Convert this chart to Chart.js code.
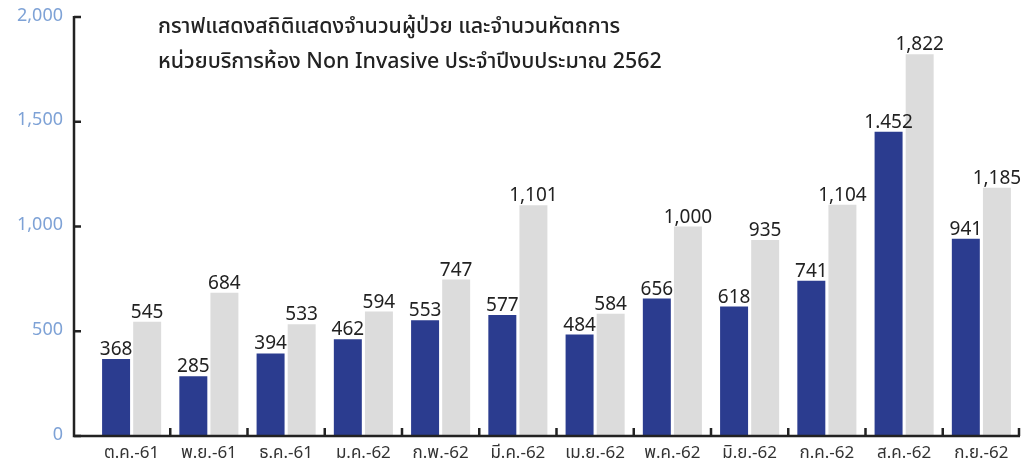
<!DOCTYPE html>
<html><head><meta charset="utf-8">
<script src="https://cdn.jsdelivr.net/npm/chart.js@4"></script>
<style>html,body{margin:0;padding:0;background:#fff}#wrap{width:1022px;height:466px;position:relative}</style>
</head><body><div id="wrap"><canvas id="c"></canvas></div>
<script>
const categories = ['ต.ค.-61','พ.ย.-61','ธ.ค.-61','ม.ค.-62','ก.พ.-62','มี.ค.-62','เม.ย.-62','พ.ค.-62','มิ.ย.-62','ก.ค.-62','ส.ค.-62','ก.ย.-62'];
const patients = [368, 285, 394, 462, 553, 577, 484, 656, 618, 741, 1452, 941];
const procedures = [545, 684, 533, 594, 747, 1101, 584, 1000, 935, 1104, 1822, 1185];
const patientLabels = ['368','285','394','462','553','577','484','656','618','741','1.452','941'];
const procedureLabels = ['545','684','533','594','747','1,101','584','1,000','935','1,104','1,822','1,185'];
const yTicks = [0, 500, 1000, 1500, 2000];
const titleLines = ['กราฟแสดงสถิติแสดงจำนวนผู้ป่วย และจำนวนหัตถการ', 'หน่วยบริการห้อง Non Invasive ประจำปีงบประมาณ 2562'];

const FONT = "'Noto Sans Thai','Noto Sans','Noto Sans CJK SC',sans-serif";

const drawPlugin = {
  id: 'drawPlugin',
  afterDatasetsDraw(chart) {
    const ctx = chart.ctx, ys = chart.scales.y, ca = chart.chartArea;
    const ax = ca.left - 19;
    ctx.save();
    ctx.strokeStyle = '#222';
    ctx.lineWidth = 2.5;
    ctx.beginPath();
    ctx.moveTo(ax, ys.getPixelForValue(yTicks[yTicks.length-1]) - 1);
    ctx.lineTo(ax, ca.bottom);
    ctx.lineTo(ca.right, ca.bottom);
    ctx.stroke();
    ctx.beginPath();
    yTicks.forEach(v => { const py = ys.getPixelForValue(v); ctx.moveTo(ax, py); ctx.lineTo(ax + 7, py); });
    const step = (ca.right - ca.left) / categories.length;
    for (let k = 1; k <= categories.length; k++) {
      const px = ca.left + step * k - (k === categories.length ? 1 : 0);
      ctx.moveTo(px, ca.bottom); ctx.lineTo(px, ca.bottom - 8);
    }
    ctx.stroke();
    ctx.fillStyle = '#222';
    ctx.font = "19px " + FONT;
    ctx.textAlign = 'center';
    ctx.textBaseline = 'alphabetic';
    const texts = [patientLabels, procedureLabels];
    chart.data.datasets.forEach((ds, di) => {
      chart.getDatasetMeta(di).data.forEach((el, i) => {
        ctx.fillText(texts[di][i], el.x, el.y - 4);
      });
    });
    ctx.textAlign = 'left';
    ctx.font = "500 21.4px " + FONT;
    ctx.fillText(titleLines[0], 158, 33);
    ctx.fillText(titleLines[1], 158, 68);
    ctx.restore();
  }
};

new Chart(document.getElementById('c'), {
  type: 'bar',
  data: {
    labels: categories,
    datasets: [
      { label: 'จำนวนผู้ป่วย', data: patients, backgroundColor: '#2b3c8f', categoryPercentage: 0.805, barPercentage: 0.9 },
      { label: 'จำนวนหัตถการ', data: procedures, backgroundColor: '#dcdcdc', categoryPercentage: 0.805, barPercentage: 0.9 }
    ]
  },
  options: {
    responsive: true,
    maintainAspectRatio: false,
    animation: false,
    layout: { padding: { top: 17, right: 2, left: 0, bottom: 0 } },
    plugins: { legend: { display: false }, title: { display: false }, tooltip: { enabled: false } },
    scales: {
      x: {
        grid: { display: false, drawTicks: false },
        border: { display: false },
        ticks: { color: '#333', font: { family: FONT, size: 17 }, padding: 8, maxRotation: 0, autoSkip: false },
        afterFit(s) { s.height = 30; s.paddingLeft = 0; s.paddingRight = 0; }
      },
      y: {
        min: 0, max: 2000,
        afterBuildTicks(s) { s.ticks = yTicks.map(v => ({ value: v })); },
        grid: { display: false, drawTicks: false },
        border: { display: false },
        ticks: { color: '#7ea2d6', font: { family: FONT, size: 18 }, padding: 30,
          callback: v => v.toLocaleString('en-US') },
        afterFit(s) { s.width = 93; s.paddingTop = 0; s.paddingBottom = 0; }
      }
    }
  },
  plugins: [drawPlugin]
});
</script></body></html>
